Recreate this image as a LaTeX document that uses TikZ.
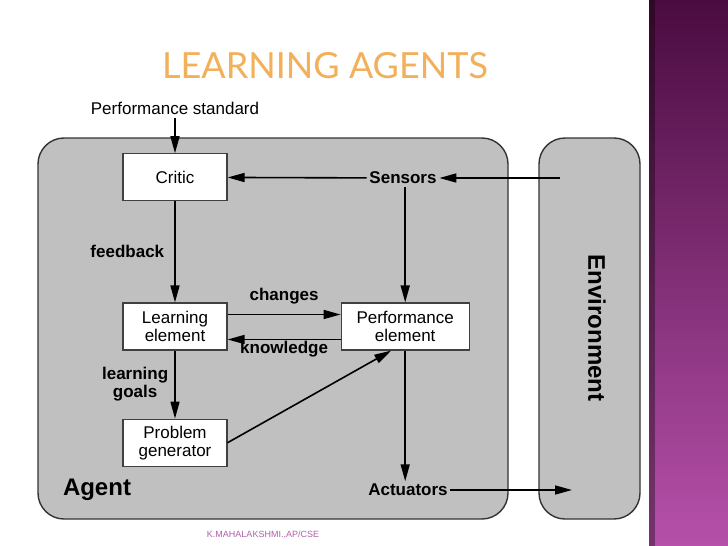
\documentclass[tikz,border=0pt]{standalone}
\usepackage{fontspec}
\setmainfont{Liberation Sans}
\newfontfamily\titlefont{Lato}
\usetikzlibrary{arrows.meta,positioning}
\definecolor{agentgray}{HTML}{C0C0C0}
\definecolor{bartop}{HTML}{4A0C40}
\definecolor{barbottom}{HTML}{B650AA}
\definecolor{titleorange}{HTML}{F2B05A}
\definecolor{footpurple}{HTML}{B060A8}

\begin{document}
\begin{tikzpicture}[x=1pt,y=-1pt,->,>={Triangle[length=17pt,width=9pt]},line width=1.6pt,
  box node/.style={rectangle,fill=white,draw=black!75,line width=1.2pt,align=center,inner sep=0pt,
    minimum width=104pt,minimum height=47pt,font=\fontsize{17}{18}\selectfont},
  lab node/.style={font=\fontsize{17}{18}\selectfont\bfseries,inner sep=2pt},
  big node/.style={font=\fontsize{24}{26}\selectfont\bfseries},
  frame/.style={-,fill=agentgray,draw=black!80,line width=1.4pt,rounded corners=26pt}]

  \useasboundingbox (0,0) rectangle (728,546);
  \fill[white] (0,0) rectangle (728,546);
  % side bar
  \shade[top color=bartop,bottom color=barbottom] (649,0) rectangle (728,546);
  \fill[black,opacity=0.35] (649,0) rectangle (655,546);

  \node[font=\titlefont\fontsize{36}{36}\selectfont,text=titleorange] (title) at (325,66) {LEARNING AGENTS};

  % agent and environment
  \draw[frame] (38,138) rectangle (508,519);
  \draw[frame] (539,138) rectangle (640,519);

  \node[box node] (learn) at (175,326.5) {Learning\\element};
  \node[box node,above=101pt of learn] (critic) {Critic};
  \node[box node,minimum width=128pt,right=113pt of learn] (perf) {Performance\\element};
  \node[box node,below=68pt of learn] (probgen) {Problem\\generator};

  \node[lab node] (sensors) at (403,178) {Sensors};
  \node[lab node] (actuators) at (408,490) {Actuators};
  \node[font=\fontsize{17}{18}\selectfont] (perfstd) at (175,108) {Performance standard};
  \node[big node] (agentlab) at (97,490) {Agent};
  \node[big node,rotate=-90] (envlab) at (597,328) {Environment};
  \node[font=\fontsize{9}{10}\selectfont,text=footpurple] (footer) at (263,535) {K.MAHALAKSHMI.,AP/CSE};

  \coordinate (envin) at (560,178);
  \coordinate (envout) at (572,490);

  \path[every node/.style={lab node}]
    (perfstd) edge (critic)
    (envin) edge (sensors)
    (sensors) edge (critic)
    (sensors.south -| perf.north) edge (perf.north)
    (critic) edge node[left=8pt] {feedback} (learn)
    ([yshift=12pt]learn.east) edge node[above=8pt] {changes} ([yshift=12pt]perf.west)
    ([yshift=-13pt]perf.west) edge node[below=0pt,inner sep=1pt] {knowledge} ([yshift=-13pt]learn.east)
    (learn) edge node[left=4pt,align=center] {learning\\goals} (probgen)
    (probgen.east) edge ([xshift=-14pt]perf.south)
    (perf.south) edge (perf.south |- actuators.north)
    (actuators) edge (envout);
\end{tikzpicture}
\end{document}
